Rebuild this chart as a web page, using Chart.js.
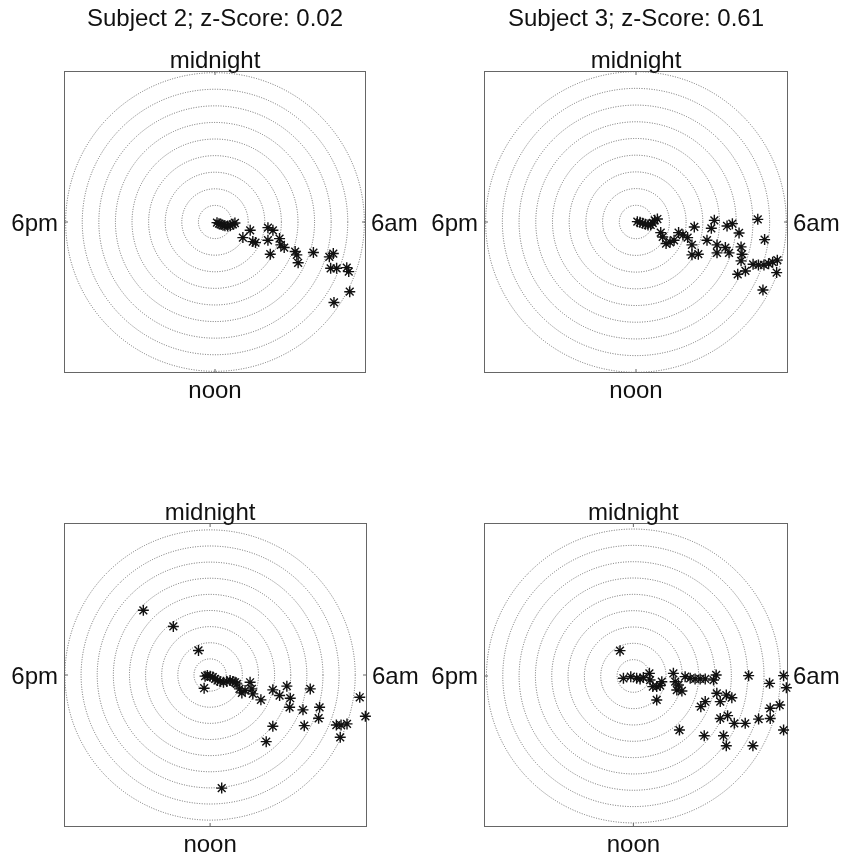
<!DOCTYPE html>
<html>
<head>
<meta charset="utf-8">
<script src="https://cdn.jsdelivr.net/npm/chart.js@4"></script>
<style>
html, body { margin: 0; padding: 0; background: #fff; }
#wrap { position: relative; width: 842px; height: 856px; }
canvas { position: absolute; }
</style>
</head>
<body>
<div id="wrap">
  <canvas id="c0" width="421" height="428" style="left:0;top:0"></canvas>
  <canvas id="c1" width="421" height="428" style="left:421px;top:0"></canvas>
  <canvas id="c2" width="421" height="428" style="left:0;top:428px"></canvas>
  <canvas id="c3" width="421" height="428" style="left:421px;top:428px"></canvas>
</div>
<script>
// clock labels: top, right, bottom, left
const clockLabels = ['midnight', '6am', 'noon', '6pm'];
const titles = ['Subject 2; z-Score: 0.02', 'Subject 3; z-Score: 0.61', '', ''];
const rings = [1, 2, 3, 4, 5, 6, 7, 8, 9];

// points in ring units: east = towards 6am, north = towards midnight
const eastA = [0.12, 0.24, 0.36, 0.48, 0.60, 0.76, 0.92, 1.08, 1.20, 2.12, 1.68, 2.28, 2.44, 3.19, 3.49, 3.19,
  3.33, 3.89, 3.97, 4.17, 4.83, 4.93, 5.01, 5.93, 6.89, 7.13, 6.97, 7.33, 7.94, 8.06, 8.12, 7.17];
const northA = [-0.04, -0.10, -0.14, -0.20, -0.22, -0.24, -0.22, -0.14, -0.06, -0.50, -0.94, -1.18, -1.24, -0.34, -0.50, -1.10,
  -1.94, -1.00, -1.38, -1.54, -1.78, -1.98, -2.46, -1.84, -2.10, -1.90, -2.79, -2.79, -2.75, -2.99, -4.20, -4.85];

const eastB = [0.08, 0.24, 0.40, 0.56, 0.72, 0.88, 1.00, 1.12, 1.28, 1.48, 1.60, 1.80, 2.04, 2.28, 2.55, 2.81,
  3.09, 3.35, 3.35, 3.73, 3.49, 4.25, 4.69, 4.51, 4.85, 4.85, 5.35, 5.45, 5.77, 5.57, 6.17, 6.29,
  6.35, 6.29, 6.09, 6.55, 7.01, 7.33, 7.66, 7.94, 8.18, 8.46, 8.42, 7.29, 7.70, 7.60];
const northB = [0.02, -0.02, -0.08, -0.14, -0.18, -0.18, -0.06, 0.10, 0.18, -0.64, -0.90, -1.30, -1.22, -1.10, -0.64, -0.78,
  -0.94, -1.38, -1.98, -1.94, -0.30, -1.10, 0.10, -0.38, -1.38, -1.86, -1.54, -0.24, -0.10, -1.86, -0.66, -1.50,
  -1.94, -2.34, -3.15, -2.95, -2.55, -2.59, -2.59, -2.51, -2.42, -2.30, -3.05, 0.16, -1.06, -4.10];

const eastC = [-0.31, -0.17, 0.00, 0.17, 0.31, 0.46, 0.62, 0.83, 1.04, 1.24, 1.41, 1.55, 1.66, 1.82, 1.97, 2.17,
  2.48, 2.59, 2.65, -0.37, 3.15, 3.89, 4.31, 4.76, 4.97, 4.93, 5.76, 6.21, 6.79, 6.73, 5.84, 3.89,
  3.48, 7.83, 8.12, 8.49, 8.07, 9.28, 9.63, -4.14, -2.28, -0.72, 0.72];
const northC = [-0.07, -0.03, -0.07, -0.13, -0.24, -0.34, -0.40, -0.45, -0.40, -0.34, -0.40, -0.45, -0.55, -0.86, -1.11, -0.96,
  -0.45, -0.86, -1.17, -0.82, -1.54, -0.92, -1.27, -0.69, -1.44, -2.00, -2.16, -0.86, -2.00, -2.68, -3.14, -3.18,
  -4.13, -3.10, -3.10, -3.03, -3.86, -1.38, -2.56, 4.01, 3.01, 1.52, -7.01];

const eastD = [-0.61, -0.16, 0.20, 0.41, 0.61, 0.98, 1.02, 1.19, 1.43, 1.64, 1.74, 1.43, 2.45, 2.56, 2.76, 2.66,
  2.97, 3.17, 3.48, 3.78, 4.09, 4.40, 4.91, 5.07, 5.11, 5.32, 5.69, 6.03, 4.40, 4.13, 7.06, 8.34,
  9.20, 9.37, 8.96, 8.38, 8.38, 7.67, 6.85, 6.18, 5.77, 5.32, 4.34, 2.82, 5.52, 5.69, 7.32, 9.20, -0.82];
const northD = [-0.14, -0.04, -0.14, -0.18, -0.10, 0.16, -0.25, -0.65, -0.65, -0.59, -0.35, -1.47, 0.16, -0.35, -0.55, -0.86,
  -0.92, -0.04, -0.14, -0.18, -0.18, -0.18, -0.25, 0.06, -1.06, -1.57, -1.17, -1.33, -1.57, -1.88, 0.02, -0.45,
  0.02, -0.72, -1.78, -1.98, -2.60, -2.64, -2.90, -2.90, -2.43, -2.60, -3.66, -3.31, -3.66, -4.27, -4.27, -3.31, 1.55];

const panels = [
  { id: 'c0', east: eastA, north: northA, title: titles[0], xr: [-9.1, 9.1], yr: [-9.1, 9.1], pad: { left: 64, top: 71, right: 55, bottom: 55 } },
  { id: 'c1', east: eastB, north: northB, title: titles[1], xr: [-9.1, 9.1], yr: [-9.1, 9.1], pad: { left: 63, top: 71, right: 54, bottom: 55 } },
  { id: 'c2', east: eastC, north: northC, title: titles[2], xr: [-9.06, 9.73], yr: [-9.42, 9.42], pad: { left: 64, top: 95, right: 54, bottom: 29 } },
  { id: 'c3', east: eastD, north: northD, title: titles[3], xr: [-9.15, 9.47], yr: [-9.25, 9.37], pad: { left: 63, top: 95, right: 54, bottom: 29 } }
];

const FONT = '24px "Liberation Sans", Arial, Helvetica, sans-serif';

const polarFrame = {
  id: 'polarFrame',
  beforeDatasetsDraw(chart) {
    const { ctx, chartArea: a, scales: { x, y } } = chart;
    const cx = x.getPixelForValue(0), cy = y.getPixelForValue(0);
    const unit = x.getPixelForValue(1) - cx;
    ctx.save();
    // dotted rings
    ctx.strokeStyle = '#6a6a6a';
    ctx.lineWidth = 1;
    ctx.setLineDash([1, 1.5]);
    rings.forEach(r => {
      ctx.beginPath();
      ctx.arc(cx, cy, r * unit, 0, Math.PI * 2);
      ctx.stroke();
    });
    ctx.setLineDash([]);
    // box
    ctx.strokeStyle = '#666';
    ctx.strokeRect(a.left + 0.5, a.top + 0.5, a.width - 1, a.height - 1);
    // small ticks at the clock positions
    ctx.beginPath();
    ctx.moveTo(cx, a.top); ctx.lineTo(cx, a.top + 4);
    ctx.moveTo(cx, a.bottom); ctx.lineTo(cx, a.bottom - 4);
    ctx.moveTo(a.left, cy); ctx.lineTo(a.left + 4, cy);
    ctx.moveTo(a.right, cy); ctx.lineTo(a.right - 4, cy);
    ctx.stroke();
    ctx.restore();
  },
  afterDraw(chart, args, opts) {
    const { ctx, chartArea: a, scales: { x, y } } = chart;
    const cx = x.getPixelForValue(0), cy = y.getPixelForValue(0);
    ctx.save();
    ctx.font = FONT;
    ctx.fillStyle = '#111';
    ctx.textBaseline = 'alphabetic';
    ctx.textAlign = 'center';
    ctx.fillText(clockLabels[0], cx, a.top - 3);
    ctx.fillText(clockLabels[2], cx, a.bottom + 25);
    if (opts.title) ctx.fillText(opts.title, cx, 26);
    ctx.textAlign = 'left';
    ctx.fillText(clockLabels[1], a.right + 5, cy + 8.5);
    ctx.textAlign = 'right';
    ctx.fillText(clockLabels[3], a.left - 6, cy + 8.5);
    ctx.restore();
  }
};

panels.forEach(p => {
  const ctx = document.getElementById(p.id).getContext('2d');
  new Chart(ctx, {
    type: 'scatter',
    data: {
      datasets: [{
        data: p.east.map((v, i) => ({ x: v, y: p.north[i] })),
        pointStyle: 'star',
        pointRadius: 5.5,
        borderWidth: 1.4,
        borderColor: '#111',
        backgroundColor: '#111',
        clip: false
      }]
    },
    options: {
      responsive: false,
      animation: false,
      events: [],
      layout: { padding: p.pad },
      scales: {
        x: { type: 'linear', min: p.xr[0], max: p.xr[1], display: false },
        y: { type: 'linear', min: p.yr[0], max: p.yr[1], display: false }
      },
      plugins: {
        legend: { display: false },
        tooltip: { enabled: false },
        polarFrame: { title: p.title }
      }
    },
    plugins: [polarFrame]
  });
});
</script>
</body>
</html>
